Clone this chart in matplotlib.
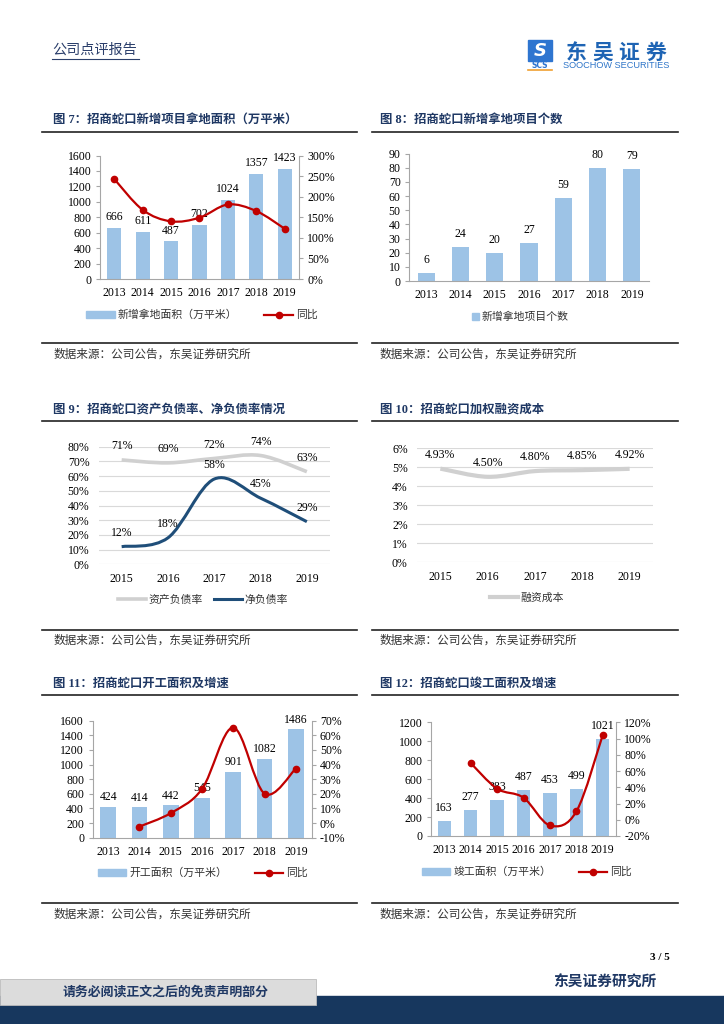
import numpy as np
import matplotlib
matplotlib.use("Agg")
import matplotlib.pyplot as plt
from matplotlib.path import Path
from matplotlib.patches import PathPatch, Rectangle, Patch
from matplotlib.lines import Line2D
from matplotlib.ticker import FuncFormatter, MultipleLocator

plt.rcParams['font.family'] = ['Liberation Serif', 'Noto Sans CJK SC', 'DejaVu Sans']
plt.rcParams['axes.unicode_minus'] = False

W, H = 724, 1024

# ---- data ----
years7 = ["2013", "2014", "2015", "2016", "2017", "2018", "2019"]
land_area = [666, 611, 487, 702, 1024, 1357, 1423]
land_area_yoy = [243, 168, 140, 149, 181, 165, 122]

land_count = [6, 24, 20, 27, 59, 80, 79]

years5 = ["2015", "2016", "2017", "2018", "2019"]
asset_liab = [71, 69, 72, 74, 63]
net_debt = [12, 18, 58, 45, 29]

fin_cost = [4.93, 4.50, 4.80, 4.85, 4.92]
fin_cost_labels = ["4.93%", "4.50%", "4.80%", "4.85%", "4.92%"]

start_area = [424, 414, 442, 545, 901, 1082, 1486]
start_yoy = [None, -2.4, 6.8, 23.3, 65.3, 20.1, 37.3]

done_area = [163, 277, 383, 487, 453, 499, 1021]
done_yoy = [None, 69.9, 38.3, 27.2, -7.0, 10.2, 104.6]

BAR = '#9DC3E6'
RED = '#C00000'
NAVY = '#1F4E79'
LGRAY = '#D0D0D0'
TITLE_C = '#1F3864'
AXC = '#A6A6A6'


def rect(x0, y0, x1, y1):
    return [x0 / W, 1 - y1 / H, (x1 - x0) / W, (y1 - y0) / H]


def smooth_path(xs, ys):
    pts = np.column_stack([xs, ys]).astype(float)
    n = len(pts)
    verts = [pts[0]]
    codes = [Path.MOVETO]
    for i in range(n - 1):
        p0 = pts[i - 1] if i > 0 else pts[i]
        p1, p2 = pts[i], pts[i + 1]
        p3 = pts[i + 2] if i + 2 < n else pts[i + 1]
        verts += [p1 + (p2 - p0) / 6, p2 - (p3 - p1) / 6, p2]
        codes += [Path.CURVE4] * 3
    return Path(verts, codes)


def smooth_line(ax, xs, ys, color, lw, zorder=3):
    ax.add_patch(PathPatch(smooth_path(xs, ys), fill=False, edgecolor=color,
                           lw=lw, zorder=zorder, capstyle='butt'))


def pct_fmt(v, pos):
    return "%d%%" % round(v)


fig = plt.figure(figsize=(W / 100, H / 100), dpi=100)
bg = fig.add_axes([0, 0, 1, 1], zorder=0)
bg.set_xlim(0, W)
bg.set_ylim(H, 0)
bg.axis('off')

# ---- header ----
bg.text(52, 50, "公司点评报告", fontsize=10.2, color='#2B3F6B', va='center', ha='left')
bg.plot([52, 139], [58.5, 58.5], color='#2B3F6B', lw=0.8)
bg.add_patch(Rectangle((528, 40), 24, 21, color='#2E75D0'))
bg.text(540, 51, "S", color='white', fontsize=13, fontweight='bold', style='italic',
        ha='center', va='center', family='DejaVu Sans')
bg.text(540, 65.5, "SCS", color='#2E75D0', fontsize=5.5, fontweight='bold',
        ha='center', va='center', family='DejaVu Sans')
bg.plot([528, 552], [69.5, 69.5], color='#F0A030', lw=1.2)
for i, ch in enumerate("东吴证券"):
    bg.text(576 + i * 26.5, 52.5, ch, color='#1E64B4', fontsize=15, fontweight='bold',
            ha='center', va='center', family='Noto Sans CJK SC')
bg.text(563, 66, "SOOCHOW SECURITIES", color='#2E75C8', fontsize=6.6,
        ha='left', va='center', family='Liberation Sans')

# ---- titles, rules, sources ----
titles = [
    (53, 120, "图 7：招商蛇口新增项目拿地面积（万平米）"),
    (380, 120, "图 8：招商蛇口新增拿地项目个数"),
    (53, 410, "图 9：招商蛇口资产负债率、净负债率情况"),
    (380, 410, "图 10：招商蛇口加权融资成本"),
    (53, 684, "图 11：招商蛇口开工面积及增速"),
    (380, 684, "图 12：招商蛇口竣工面积及增速"),
]
for x, y, t in titles:
    bg.text(x, y, t, fontsize=8.9, fontweight='bold', color=TITLE_C, va='center', ha='left')

for ytop, ybot, ysrc in [(132, 342.5, 355), (421, 630, 641), (695, 903, 915)]:
    for x0, x1, xs in [(42, 357, 53), (372, 678, 380)]:
        bg.plot([x0, x1], [ytop, ytop], color='#222222', lw=1.2)
        bg.plot([x0, x1], [ybot, ybot], color='#222222', lw=1.2)
        bg.text(xs, ysrc, "数据来源：公司公告，东吴证券研究所", fontsize=8.4, color='#333333',
                va='center', ha='left')

# ---- footer ----
bg.text(660, 957, "3 / 5", fontsize=8, fontweight='bold', ha='center', va='center')
bg.text(553, 983, "东吴证券研究所", fontsize=10.6, fontweight='bold', color=TITLE_C,
        ha='left', va='center')
bg.add_patch(Rectangle((0, 996), W, 28, color='#17375E'))
bg.add_patch(Rectangle((0, 979), 316, 26, facecolor='#DCDCDC', edgecolor='#BBBBBB', lw=0.6))
bg.text(166, 992, "请务必阅读正文之后的免责声明部分", fontsize=9.3, fontweight='bold',
        color=TITLE_C, ha='center', va='center')


def style_bar_axes(ax):
    ax.spines['top'].set_visible(False)
    ax.spines['right'].set_visible(False)
    for s in ['left', 'bottom']:
        ax.spines[s].set_color(AXC)
    ax.tick_params(axis='y', direction='out', length=3, color=AXC, labelsize=8.5, pad=3)
    ax.tick_params(axis='x', length=0, labelsize=8.5, pad=6)
    ax.patch.set_alpha(0)


def legend_at(ax, handles, labels, cx, cy, **kw):
    leg = ax.legend(handles, labels, loc='center', bbox_to_anchor=(cx / W, 1 - cy / H),
                    bbox_transform=fig.transFigure, ncol=len(handles), frameon=False,
                    prop={'family': ['Noto Sans CJK SC'], 'size': 7.8}, **kw)
    for t in leg.get_texts():
        t.set_color('#333333')
    return leg


def bar_line_chart(r, cats, bars, yoy, ylim, ystep, y2lim, y2step, bar_label, leg_pos, lab_off=3.5):
    ax = fig.add_axes(rect(*r), zorder=2)
    x = np.arange(len(cats))
    ax.bar(x, bars, width=0.5, color=BAR, zorder=2)
    ax.set_xlim(-0.5, len(cats) - 0.5)
    ax.set_ylim(*ylim)
    ax.yaxis.set_major_locator(MultipleLocator(ystep))
    ax.set_xticks(x)
    ax.set_xticklabels(cats)
    style_bar_axes(ax)
    for i, v in enumerate(bars):
        ax.annotate(str(v), (i, v), xytext=(0, lab_off), textcoords='offset points',
                    ha='center', va='bottom', fontsize=8.5, zorder=3)
    ax2 = ax.twinx()
    ax2.set_ylim(*y2lim)
    ax2.yaxis.set_major_locator(MultipleLocator(y2step))
    ax2.yaxis.set_major_formatter(FuncFormatter(pct_fmt))
    for s in ['top', 'left', 'bottom']:
        ax2.spines[s].set_visible(False)
    ax2.spines['right'].set_color(AXC)
    ax2.tick_params(axis='y', direction='out', length=3, color=AXC, labelsize=8.5, pad=3)
    xi = [i for i, v in enumerate(yoy) if v is not None]
    yv = [v for v in yoy if v is not None]
    smooth_line(ax2, xi, yv, RED, 1.6)
    ax2.plot(xi, yv, 'o', color=RED, markersize=4.5, zorder=4)
    h = [Patch(color=BAR), Line2D([], [], color=RED, lw=1.6, marker='o', markersize=4.5)]
    legend_at(ax2, h, [bar_label, "同比"], *leg_pos, handlelength=2.6, handleheight=0.6,
              columnspacing=2.5, handletextpad=0.3)
    return ax, ax2


# ---- chart 7 ----
bar_line_chart((100, 155.5, 299, 279), years7, land_area, land_area_yoy,
               (0, 1600), 200, (0, 300), 50, "新增拿地面积（万平米）", (202, 315))

# ---- chart 8 ----
ax8 = fig.add_axes(rect(409, 153.7, 649, 281), zorder=2)
x8 = np.arange(len(years7))
ax8.bar(x8, land_count, width=0.5, color=BAR)
ax8.set_xlim(-0.5, 6.5)
ax8.set_ylim(0, 90)
ax8.yaxis.set_major_locator(MultipleLocator(10))
ax8.set_xticks(x8)
ax8.set_xticklabels(years7)
style_bar_axes(ax8)
for i, v in enumerate(land_count):
    ax8.annotate(str(v), (i, v), xytext=(0, 5), textcoords='offset points',
                 ha='center', va='bottom', fontsize=8.5)
legend_at(ax8, [Patch(color=BAR)], ["新增拿地项目个数"], 520, 317,
          handlelength=0.7, handleheight=0.7, handletextpad=0.2)


def line_chart(r, cats, series, ylim, ystep, fmt, leg_pos):
    ax = fig.add_axes(rect(*r), zorder=2)
    x = np.arange(len(cats))
    ax.set_xlim(-0.5, len(cats) - 0.5)
    ax.set_ylim(*ylim)
    ax.yaxis.set_major_locator(MultipleLocator(ystep))
    ax.yaxis.set_major_formatter(FuncFormatter(fmt))
    ax.set_xticks(x)
    ax.set_xticklabels(cats)
    for s in ax.spines.values():
        s.set_visible(False)
    ax.grid(axis='y', color='#D9D9D9', lw=0.8)
    ax.set_axisbelow(True)
    ax.tick_params(axis='y', length=0, labelsize=8.5, pad=6.5)
    ax.tick_params(axis='x', length=0, labelsize=8.5, pad=6)
    ax.patch.set_alpha(0)
    handles, labels = [], []
    for vals, labs, color, lw, name in series:
        smooth_line(ax, x, vals, color, lw)
        for i, v in enumerate(vals):
            ax.annotate(labs[i], (i, v), xytext=(0, 10), textcoords='offset points',
                        ha='center', va='center', fontsize=8.5, zorder=5)
        handles.append(Line2D([], [], color=color, lw=lw))
        labels.append(name)
    legend_at(ax, handles, labels, *leg_pos, handlelength=2.6, columnspacing=1.0,
              handletextpad=0.2)
    return ax


# ---- chart 9 ----
line_chart((98.5, 446.7, 330, 564.3), years5,
           [(asset_liab, ["%d%%" % v for v in asset_liab], LGRAY, 2.6, "资产负债率"),
            (net_debt, ["%d%%" % v for v in net_debt], NAVY, 2.2, "净负债率")],
           (0, 80), 10, pct_fmt, (203, 600))

# ---- chart 10 ----
line_chart((416.7, 448.3, 653.3, 562.3), years5,
           [(fin_cost, fin_cost_labels, LGRAY, 3.0, "融资成本")],
           (0, 6), 1, pct_fmt, (527, 598))

# ---- chart 11 ----
bar_line_chart((92.5, 720.7, 311.5, 837.7), years7, start_area, start_yoy,
               (0, 1600), 200, (-10, 70), 10, "开工面积（万平米）", (203, 873), lab_off=2.5)

# ---- chart 12 ----
bar_line_chart((431, 722.3, 616, 836), years7, done_area, done_yoy,
               (0, 1200), 200, (-20, 120), 20, "竣工面积（万平米）", (527, 872), lab_off=5)

fig.savefig("out.png", dpi=100)
